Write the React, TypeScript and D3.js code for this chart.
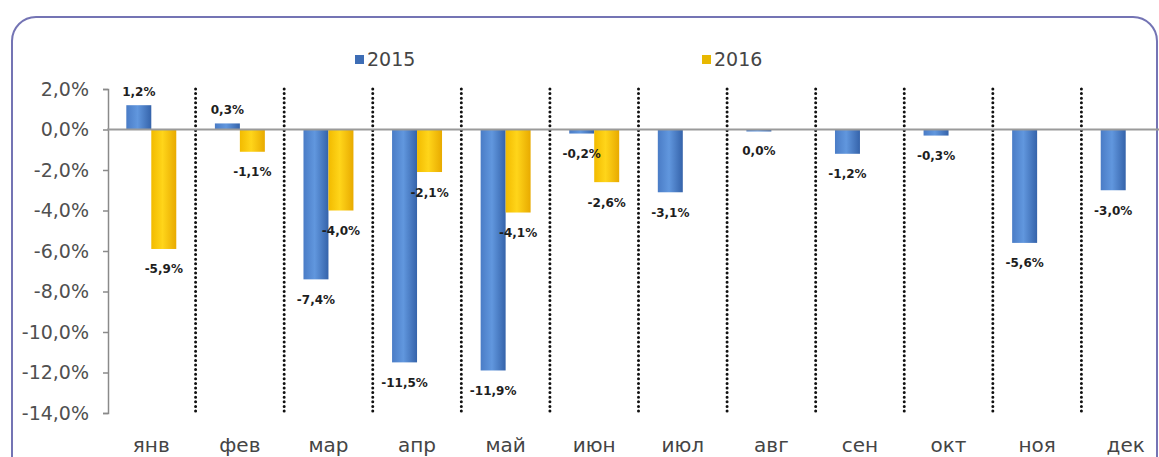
import React, { useRef, useEffect } from 'react';
import * as d3 from 'd3';

const months = ['янв', 'фев', 'мар', 'апр', 'май', 'июн', 'июл', 'авг', 'сен', 'окт', 'ноя', 'дек'];
const series = ['2015', '2016'];
const values2015 = [1.2, 0.3, -7.4, -11.5, -11.9, -0.2, -3.1, -0.04, -1.2, -0.3, -5.6, -3.0];
const values2016 = [-5.9, -1.1, -4.0, -2.1, -4.1, -2.6, null, null, null, null, null, null];
const yTicks = [2, 0, -2, -4, -6, -8, -10, -12, -14];

const fmt = (v: number) => (Math.abs(v) < 0.05 ? '0,0' : v.toFixed(1).replace('.', ',')) + '%';

const App = () => {
  const ref = useRef<SVGSVGElement>(null);

  useEffect(() => {
    const svg = d3.select(ref.current);
    svg.selectAll('*').remove();

    const W = 1159;
    const H = 457;
    const left = 107;
    const right = 1170;
    const top = 89;
    const bottom = 413;

    // gradients for the bars
    const defs = svg.append('defs');
    const grad = (id: string, stops: [number, string][]) => {
      const g = defs.append('linearGradient').attr('id', id).attr('x1', 0).attr('x2', 1).attr('y1', 0).attr('y2', 0);
      stops.forEach(([o, c]) => g.append('stop').attr('offset', o).attr('stop-color', c));
    };
    grad('gBlue', [[0, '#4a7cc6'], [0.45, '#6197de'], [1, '#3563aa']]);
    grad('gYellow', [[0, '#f2bb00'], [0.45, '#ffd51a'], [1, '#e8aa00']]);

    // chart frame
    svg.append('rect')
      .attr('x', 12).attr('y', 17)
      .attr('width', W - 14).attr('height', H + 10)
      .attr('rx', 24)
      .attr('fill', 'white')
      .attr('stroke', '#7474b4')
      .attr('stroke-width', 2);

    const x = d3.scaleBand<string>()
      .domain(months)
      .range([left, right])
      .paddingInner(0.436)
      .paddingOuter(0.218);

    const xs = d3.scaleBand<string>()
      .domain(series)
      .range([0, x.bandwidth()]);

    const y = d3.scaleLinear().domain([-14, 2]).range([bottom, top]);

    // y axis
    const yAxis = svg.append('g')
      .attr('transform', `translate(${left + 1},0)`)
      .call(d3.axisLeft(y).tickValues(yTicks).tickSize(5).tickFormat(d => fmt(+d)));
    yAxis.selectAll('path, line').attr('stroke', '#8a8a8a').attr('stroke-width', 1.5);
    yAxis.selectAll('text')
      .attr('x', -19)
      .attr('fill', '#505050')
      .style('font-family', 'DejaVu Sans, Verdana, sans-serif')
      .style('font-size', '19px');

    // dotted month separators
    const step = x.step();
    svg.append('g')
      .selectAll('line')
      .data(months.slice(1))
      .join('line')
      .attr('x1', (d, i) => left + step * (i + 1))
      .attr('x2', (d, i) => left + step * (i + 1))
      .attr('y1', top)
      .attr('y2', bottom)
      .attr('stroke', '#111')
      .attr('stroke-width', 3)
      .attr('stroke-linecap', 'round')
      .attr('stroke-dasharray', '0,4.6');

    const rows = months.flatMap((m, i) => [
      { m, s: '2015', v: values2015[i] },
      { m, s: '2016', v: values2016[i] },
    ]).filter(d => d.v !== null) as { m: string; s: string; v: number }[];

    // bars
    svg.append('g')
      .selectAll('rect')
      .data(rows)
      .join('rect')
      .attr('x', d => (x(d.m) as number) + (xs(d.s) as number))
      .attr('width', xs.bandwidth())
      .attr('y', d => y(Math.max(0, d.v)))
      .attr('height', d => Math.max(2, Math.abs(y(d.v) - y(0))))
      .attr('fill', d => (d.s === '2015' ? 'url(#gBlue)' : 'url(#gYellow)'));

    // zero line
    svg.append('line')
      .attr('x1', left).attr('x2', W)
      .attr('y1', y(0)).attr('y2', y(0))
      .attr('stroke', '#9a9a9a')
      .attr('stroke-width', 2);

    // data labels
    svg.append('g')
      .selectAll('text')
      .data(rows)
      .join('text')
      .attr('x', d => (x(d.m) as number) + (xs(d.s) as number) + xs.bandwidth() / 2)
      .attr('y', d => (d.v > 0 ? y(d.v) - 13 : y(d.v) + 21))
      .attr('text-anchor', 'middle')
      .attr('dominant-baseline', 'middle')
      .attr('fill', '#1e1e1e')
      .style('font-family', 'DejaVu Sans, Verdana, sans-serif')
      .style('font-weight', 'bold')
      .style('font-size', '12px')
      .text(d => fmt(d.v));

    // month labels
    svg.append('g')
      .selectAll('text')
      .data(months)
      .join('text')
      .attr('x', d => (x(d) as number) + x.bandwidth() / 2)
      .attr('y', 446)
      .attr('text-anchor', 'middle')
      .attr('dominant-baseline', 'middle')
      .attr('fill', '#454545')
      .style('font-family', 'DejaVu Sans, Verdana, sans-serif')
      .style('font-size', '20px')
      .text(d => d);

    // legend
    const legend = svg.append('g');
    const legendX = [355, 702];
    series.forEach((s, i) => {
      legend.append('rect')
        .attr('x', legendX[i]).attr('y', 55)
        .attr('width', 9).attr('height', 9)
        .attr('fill', s === '2015' ? '#3e6db5' : '#e8b800');
      legend.append('text')
        .attr('x', legendX[i] + 12).attr('y', 60)
        .attr('dominant-baseline', 'middle')
        .attr('fill', '#454545')
        .style('font-family', 'DejaVu Sans, Verdana, sans-serif')
        .style('font-size', '19px')
        .text(s);
    });
  }, []);

  return (
    <svg
      ref={ref}
      width={1159}
      height={457}
      style={{ position: 'absolute', left: 0, top: 0, display: 'block', background: 'white' }}
    />
  );
};

export default App;
